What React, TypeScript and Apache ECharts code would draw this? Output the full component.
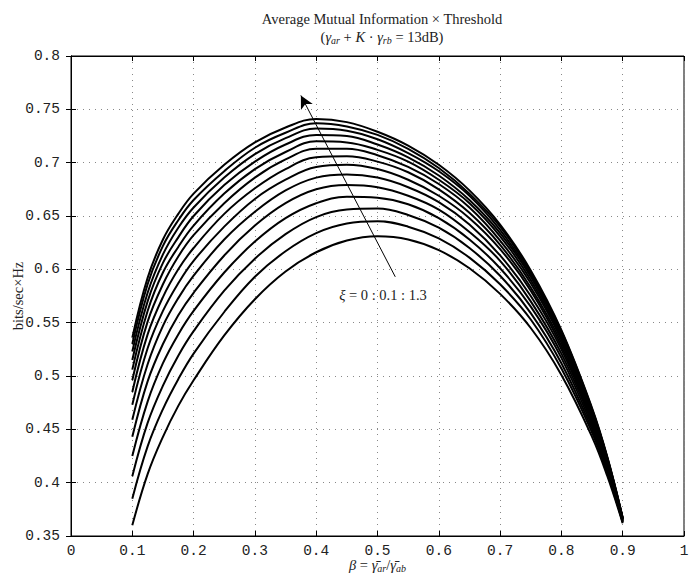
import React, { useEffect, useRef } from "react";
import * as echarts from "echarts";

const betas = [0.1, 0.125, 0.15, 0.175, 0.2, 0.25, 0.3, 0.35, 0.4, 0.45, 0.5, 0.55, 0.6, 0.65, 0.7, 0.75, 0.8, 0.85, 0.875, 0.9];

const xi0 = [0.360, 0.408, 0.443, 0.472, 0.496, 0.538, 0.572, 0.598, 0.616, 0.627, 0.631, 0.628, 0.618, 0.601, 0.577, 0.545, 0.501, 0.443, 0.406, 0.362];
const xi1 = [0.385, 0.434, 0.469, 0.497, 0.521, 0.560, 0.593, 0.617, 0.634, 0.643, 0.645, 0.640, 0.629, 0.611, 0.586, 0.553, 0.507, 0.447, 0.409, 0.363];
const xi2 = [0.406, 0.456, 0.491, 0.519, 0.542, 0.580, 0.610, 0.633, 0.649, 0.656, 0.657, 0.651, 0.639, 0.620, 0.594, 0.559, 0.512, 0.450, 0.411, 0.363];
const xi3 = [0.425, 0.476, 0.512, 0.539, 0.561, 0.597, 0.626, 0.648, 0.662, 0.668, 0.667, 0.661, 0.648, 0.628, 0.601, 0.565, 0.517, 0.453, 0.413, 0.364];
const xi4 = [0.443, 0.495, 0.530, 0.557, 0.578, 0.613, 0.641, 0.662, 0.675, 0.679, 0.677, 0.669, 0.656, 0.635, 0.608, 0.570, 0.521, 0.456, 0.415, 0.364];
const xi5 = [0.459, 0.511, 0.547, 0.573, 0.594, 0.628, 0.654, 0.674, 0.686, 0.689, 0.686, 0.677, 0.663, 0.642, 0.613, 0.575, 0.525, 0.458, 0.416, 0.365];
const xi6 = [0.473, 0.526, 0.561, 0.587, 0.608, 0.640, 0.666, 0.684, 0.696, 0.698, 0.694, 0.684, 0.669, 0.648, 0.619, 0.580, 0.528, 0.460, 0.418, 0.365];
const xi7 = [0.485, 0.539, 0.574, 0.600, 0.620, 0.652, 0.676, 0.694, 0.705, 0.706, 0.701, 0.691, 0.675, 0.653, 0.623, 0.583, 0.531, 0.462, 0.419, 0.366];
const xi8 = [0.496, 0.551, 0.586, 0.612, 0.632, 0.662, 0.686, 0.703, 0.713, 0.713, 0.707, 0.696, 0.680, 0.658, 0.627, 0.587, 0.534, 0.464, 0.420, 0.366];
const xi9 = [0.506, 0.561, 0.597, 0.621, 0.641, 0.671, 0.694, 0.710, 0.720, 0.719, 0.712, 0.701, 0.684, 0.662, 0.631, 0.590, 0.536, 0.465, 0.421, 0.366];
const xi10 = [0.515, 0.570, 0.606, 0.630, 0.650, 0.679, 0.701, 0.717, 0.726, 0.725, 0.717, 0.705, 0.688, 0.665, 0.634, 0.593, 0.538, 0.467, 0.422, 0.366];
const xi11 = [0.523, 0.578, 0.614, 0.639, 0.658, 0.686, 0.708, 0.723, 0.732, 0.730, 0.722, 0.709, 0.692, 0.669, 0.637, 0.595, 0.540, 0.468, 0.423, 0.367];
const xi12 = [0.530, 0.586, 0.622, 0.646, 0.665, 0.692, 0.714, 0.728, 0.737, 0.734, 0.726, 0.713, 0.695, 0.671, 0.640, 0.597, 0.542, 0.469, 0.423, 0.367];
const xi13 = [0.536, 0.592, 0.628, 0.652, 0.671, 0.698, 0.719, 0.733, 0.741, 0.738, 0.729, 0.716, 0.698, 0.674, 0.642, 0.599, 0.543, 0.470, 0.424, 0.367];

const curves = [xi0, xi1, xi2, xi3, xi4, xi5, xi6, xi7, xi8, xi9, xi10, xi11, xi12, xi13];
const xiLabels = ["0", "0.1", "0.2", "0.3", "0.4", "0.5", "0.6", "0.7", "0.8", "0.9", "1", "1.1", "1.2", "1.3"];

const arrowTail = [0.529, 0.593];
const arrowHead = [0.375, 0.763];
const annotationPos = [0.509, 0.576];

const SERIF = "'Liberation Serif', 'DejaVu Serif', serif";
const MONO = "'Liberation Mono', 'DejaVu Sans Mono', monospace";

export default function App() {
  const ref = useRef<HTMLDivElement>(null);
  useEffect(() => {
    if (!ref.current) return;
    const chart = echarts.init(ref.current, undefined, { renderer: "svg" });
    const fmt = (v: number) => String(Math.round(v * 100) / 100);
    const rich = {
      i: { fontFamily: SERIF, fontStyle: "italic", fontSize: 14.5, color: "#222" },
      n: { fontFamily: SERIF, fontSize: 14.5, color: "#222" },
      s: { fontFamily: SERIF, fontStyle: "italic", fontSize: 10, color: "#222", padding: [6, 0, 0, 0] },
    };
    const series: any[] = curves.map((c, k) => ({
      type: "line",
      name: "ξ = " + xiLabels[k],
      data: betas.map((b, j) => [b, c[j]]),
      showSymbol: false,
      smooth: 0.4,
      lineStyle: { color: "#000", width: 2 },
      itemStyle: { color: "#000" },
      z: 3,
    }));
    series[0].markLine = {
      silent: true,
      symbol: ["none", "arrow"],
      symbolSize: [10, 13],
      lineStyle: { color: "#000", width: 1, type: "solid" },
      label: { show: false },
      data: [[{ coord: arrowTail }, { coord: arrowHead }]],
    };
    series[0].markPoint = {
      silent: true,
      symbol: "circle",
      symbolSize: 0,
      data: [{ coord: annotationPos }],
      label: {
        show: true,
        position: "inside",
        formatter: "{i|ξ}{n| = 0 : 0.1 : 1.3}",
        rich,
      },
    };
    chart.setOption({
      animation: false,
      backgroundColor: "#fff",
      title: [
        {
          text: "Average Mutual Information × Threshold",
          left: 377,
          top: 6,
          textAlign: "center",
          textStyle: { fontFamily: SERIF, fontSize: 14.5, fontWeight: "normal", color: "#222" },
        },
        {
          text: "{n|(}{i|γ}{s|ar}{n| + }{i|K}{n| · }{i|γ}{s|rb}{n| = 13dB)}",
          left: 377,
          top: 24,
          textAlign: "center",
          textStyle: { fontFamily: SERIF, fontSize: 14.5, fontWeight: "normal", color: "#222", rich },
        },
      ],
      grid: {
        left: 71,
        right: 6,
        top: 56,
        bottom: 42,
        outerBoundsMode: "none",
        containLabel: false,
        show: true,
        borderColor: "#000",
        borderWidth: 1,
        backgroundColor: "#fff",
      },
      xAxis: [
        {
          type: "value",
          min: 0,
          max: 1,
          interval: 0.1,
          name: "{i|β}{n| = }{i|γ̄}{s|ar}{n|/}{i|γ̄}{s|ab}",
          nameLocation: "middle",
          nameGap: 21,
          nameMoveOverlap: false,
          nameTextStyle: { rich },
          axisLine: { show: true, lineStyle: { color: "#000", width: 1 } },
          axisTick: { show: true, inside: true, length: 5, lineStyle: { color: "#000" } },
          axisLabel: { formatter: fmt, fontFamily: MONO, fontSize: 14.5, color: "#222", margin: 7 },
          splitLine: { show: true, lineStyle: { color: "#888", type: [1, 5], width: 1 } },
        },
        {
          type: "value",
          min: 0,
          max: 1,
          interval: 0.1,
          position: "top",
          axisLine: { show: true, lineStyle: { color: "#000", width: 1 } },
          axisTick: { show: true, inside: true, length: 5, lineStyle: { color: "#000" } },
          axisLabel: { show: false },
          splitLine: { show: false },
        },
      ],
      yAxis: [
        {
          type: "value",
          min: 0.35,
          max: 0.8,
          interval: 0.05,
          name: "bits/sec×Hz",
          nameLocation: "middle",
          nameGap: 46,
          nameMoveOverlap: false,
          nameTextStyle: { fontFamily: SERIF, fontSize: 14.5, color: "#222" },
          axisLine: { show: true, lineStyle: { color: "#000", width: 1 } },
          axisTick: { show: true, inside: true, length: 5, lineStyle: { color: "#000" } },
          axisLabel: { formatter: fmt, fontFamily: MONO, fontSize: 14.5, color: "#222", margin: 11 },
          splitLine: { show: true, lineStyle: { color: "#888", type: [1, 5], width: 1 } },
        },
        {
          type: "value",
          min: 0.35,
          max: 0.8,
          interval: 0.05,
          position: "right",
          axisLine: { show: true, lineStyle: { color: "#000", width: 1 } },
          axisTick: { show: true, inside: true, length: 5, lineStyle: { color: "#000" } },
          axisLabel: { show: false },
          splitLine: { show: false },
        },
      ],
      series,
    });
    return () => chart.dispose();
  }, []);
  return (
    <div
      ref={ref}
      style={{ position: "fixed", left: 0, top: 0, width: 690, height: 578, background: "#fff" }}
    />
  );
}
